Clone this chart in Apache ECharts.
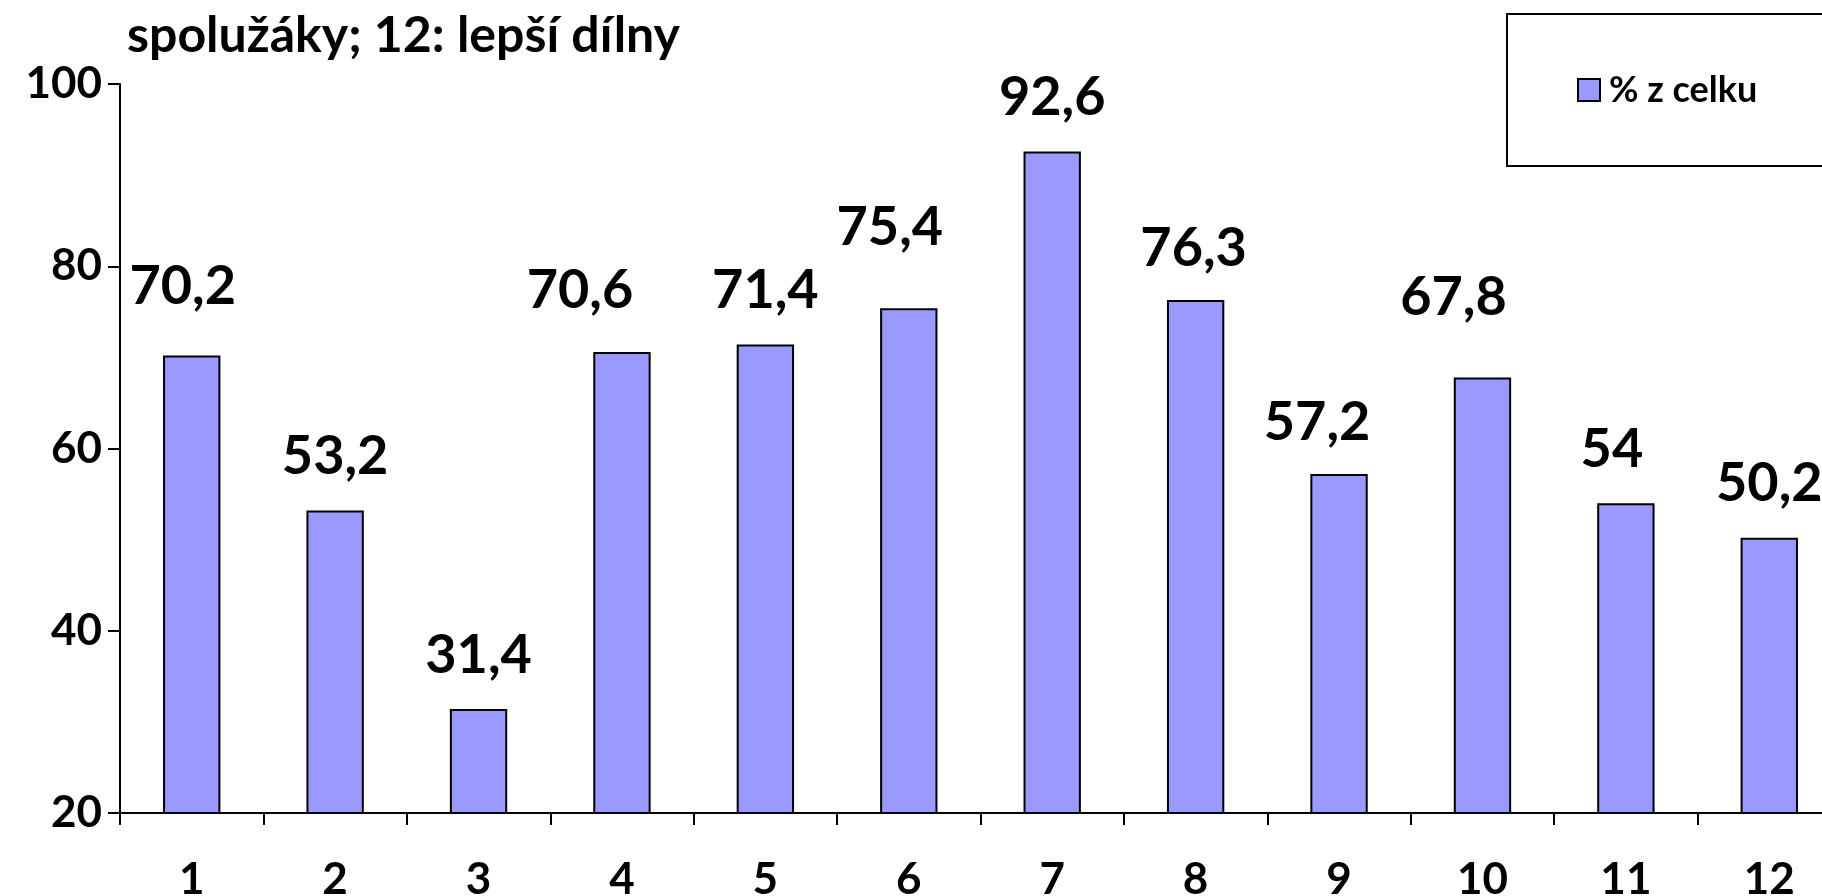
<!DOCTYPE html>
<html><head><meta charset="utf-8">
<script src="https://cdn.jsdelivr.net/npm/echarts@6/dist/echarts.min.js"></script>
<style>html,body{margin:0;padding:0;background:#fff}#c{width:1822px;height:896px}</style>
</head><body><div id="c"></div>
<script>
const titleText = 'spolužáky; 12: lepší dílny';
const seriesName = '% z celku';
const categories = ['1','2','3','4','5','6','7','8','9','10','11','12'];
const values = [70.2, 53.2, 31.4, 70.6, 71.4, 75.4, 92.6, 76.3, 57.2, 67.8, 54, 50.2];
const yTicks = [20, 40, 60, 80, 100];

// label placement tweaks (pixels), layout only
const labelOffsets = [[-9,-15],[0,0],[0,0],[-42,-7],[0,0],[-19,-27],[0,0],[-2,3],[-22,3],[-29,-26],[-14,0],[0,0]];

const FONT = 'Lato';
const chart = echarts.init(document.getElementById('c'), null, {renderer:'canvas'});
chart.setOption({
  animation:false,
  backgroundColor:'#fff',
  textStyle:{fontFamily:FONT},
  title:{text:titleText,left:122,top:6,textStyle:{fontFamily:FONT,fontWeight:'bold',fontSize:50,color:'#000'}},
  legend:{
    data:[seriesName],left:1507,top:14,orient:'horizontal',
    padding:[58,70,58,70],borderColor:'#000',borderWidth:2,
    itemWidth:22,itemHeight:22,itemGap:10,
    icon:'rect',
    textStyle:{fontFamily:FONT,fontWeight:'bold',fontSize:36,color:'#000',padding:[0,0,0,4]}
  },
  grid:{left:120,width:1721,top:84,bottom:83,containLabel:false,outerBoundsMode:'none'},
  xAxis:{
    type:'category',data:categories,
    axisLine:{lineStyle:{color:'#000',width:2}},
    axisTick:{show:true,alignWithLabel:false,inside:false,length:12,lineStyle:{color:'#000',width:2}},
    axisLabel:{fontFamily:FONT,fontWeight:'bold',fontSize:44,color:'#000',margin:45}
  },
  yAxis:{
    type:'value',min:yTicks[0],max:yTicks[yTicks.length-1],interval:20,
    splitLine:{show:false},
    axisLine:{show:true,lineStyle:{color:'#000',width:2}},
    axisTick:{show:true,length:12,lineStyle:{color:'#000',width:2}},
    axisLabel:{fontFamily:FONT,fontWeight:'bold',fontSize:44,color:'#000',margin:18}
  },
  series:[{
    name:seriesName,type:'bar',barCategoryGap:'60%',
    itemStyle:{color:'#9999FF',borderColor:'#000',borderWidth:2},
    label:{show:true,position:'top',distance:27,fontFamily:FONT,fontWeight:'bold',fontSize:54,lineHeight:54,color:'#000',
      formatter:p=>String(p.value).replace('.',',')},
    data:values.map((v,i)=>({value:v,label:{offset:labelOffsets[i]}}))
  }]
});
</script></body></html>
